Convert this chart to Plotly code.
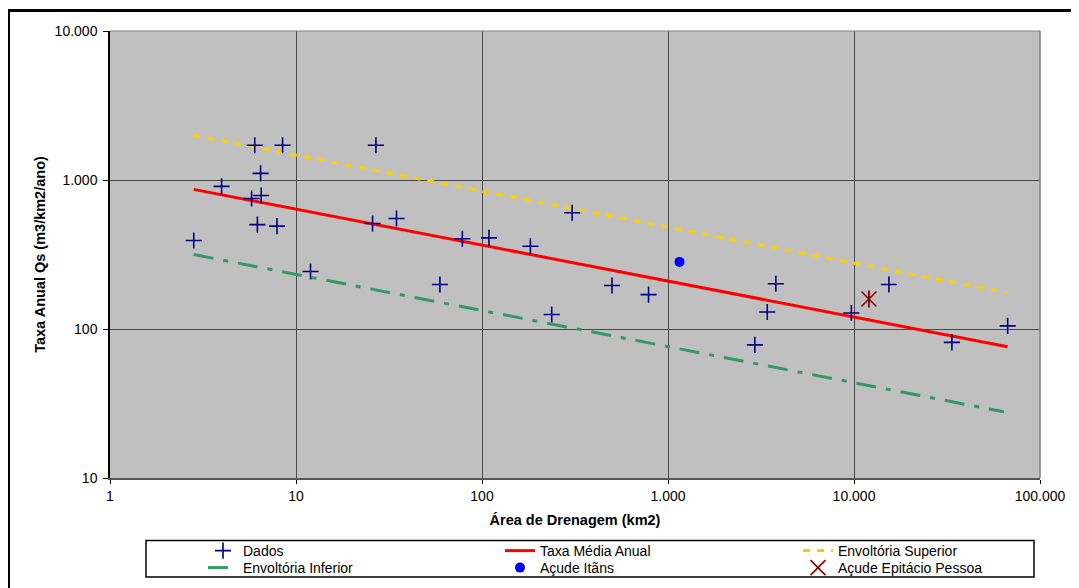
import plotly.graph_objects as go

# Dados
dados_area = [2.82, 3.98, 6.0, 8.47, 6.45, 5.77, 6.5, 6.2, 7.9, 11.97, 26.9, 25.8, 34.7,
              59.4, 78.4, 109, 182, 237, 305, 500, 786, 3800, 3417, 2930, 9680, 15400, 33600, 67000]
dados_qs = [393, 906, 1710, 1710, 1107, 752, 787, 502, 490, 243, 1710, 511, 552,
            199, 403, 409, 359, 125, 603, 196, 170, 201, 130, 78.3, 128, 199, 81.3, 105]

# Trend / envelope lines (end points of power-law lines)
linha_area = [2.82, 67000]
media_qs = [865, 76]
superior_qs = [1995, 175]
inferior_area = [2.82, 64000]
inferior_qs = [316, 27.8]

itans_area = [1153]
itans_qs = [282]
epitacio_area = [12030]
epitacio_qs = [159]

x_ticks = [1, 10, 100, 1000, 10000, 100000]
x_ticktext = ["1", "10", "100", "1.000", "10.000", "100.000"]
y_ticks = [10, 100, 1000, 10000]
y_ticktext = ["10", "100", "1.000", "10.000"]

FONT = "Liberation Sans, Arial, sans-serif"

# figure geometry (page has an 8px body margin)
OFF = 8
W, H = 1071, 580
L, R, T, B = 102, 39, 23, 110
pw, ph = W - L - R, H - T - B


def px_x(p):
    return (p - OFF - L) / pw


def px_y(p):
    return (H - B - (p - OFF)) / ph


fig = go.Figure()

fig.add_trace(go.Scatter(x=linha_area, y=superior_qs, mode="lines", name="Envoltória Superior",
                         line=dict(color="#FFCC00", width=3, dash="7px,7px"), legend="legend3"))
fig.add_trace(go.Scatter(x=inferior_area, y=inferior_qs, mode="lines", name="Envoltória Inferior",
                         line=dict(color="#339966", width=3, dash="20px,10px,5px,10px"), legend="legend4"))
fig.add_trace(go.Scatter(x=linha_area, y=media_qs, mode="lines", name="Taxa Média Anual",
                         line=dict(color="#FF0000", width=3), legend="legend2"))
fig.add_trace(go.Scatter(x=dados_area, y=dados_qs, mode="markers", name="Dados",
                         marker=dict(symbol="cross-thin", size=11.5, line=dict(color="#000080", width=1.6),
                                     color="#000080"), legend="legend"))
fig.add_trace(go.Scatter(x=itans_area, y=itans_qs, mode="markers", name="Açude Itãns",
                         marker=dict(symbol="circle", size=10, color="#0000FF"), legend="legend5"))
fig.add_trace(go.Scatter(x=epitacio_area, y=epitacio_qs, mode="markers", name="Açude Epitácio Pessoa",
                         marker=dict(symbol="x-thin", size=15, line=dict(color="#800000", width=1.6),
                                     color="#800000"), legend="legend6"))
fig.add_trace(go.Scatter(x=epitacio_area, y=epitacio_qs, mode="markers", showlegend=False,
                         legend="legend6",
                         marker=dict(symbol="line-ns", size=12, line=dict(color="#800000", width=1.8),
                                     color="#800000"), hoverinfo="skip"))

legend_common = dict(bgcolor="rgba(0,0,0,0)", borderwidth=0, orientation="v",
                     font=dict(family=FONT, size=14, color="#000"),
                     xanchor="left", yanchor="middle", itemwidth=30)

row1, row2 = 551, 568
col1, col2, col3 = 243 - 40, 540 - 40, 838 - 40

fig.update_layout(
    width=W, height=H,
    margin=dict(l=L, r=R, t=T, b=B, autoexpand=False),
    paper_bgcolor="white",
    plot_bgcolor="#C0C0C0",
    font=dict(family=FONT, size=14, color="#000"),
    showlegend=True,
    legend=dict(x=px_x(col1), y=px_y(row1), **legend_common),
    legend4=dict(x=px_x(col1), y=px_y(row2), **legend_common),
    legend2=dict(x=px_x(col2), y=px_y(row1), **legend_common),
    legend5=dict(x=px_x(col2), y=px_y(row2), **legend_common),
    legend3=dict(x=px_x(col3), y=px_y(row1), **legend_common),
    legend6=dict(x=px_x(col3), y=px_y(row2), **legend_common),
    xaxis=dict(type="log", range=[0, 5], tickvals=x_ticks, ticktext=x_ticktext,
               showgrid=True, gridcolor="#4a4a4a", gridwidth=1,
               showline=True, linecolor="#555", linewidth=2,
               ticks="outside", ticklen=4, tickcolor="#000",
               tickfont=dict(family=FONT, size=14),
               title=dict(text="<b>Área de Drenagem (km2)</b>", font=dict(family=FONT, size=14.5), standoff=12),
               zeroline=False),
    yaxis=dict(type="log", range=[1, 4], tickvals=y_ticks, ticktext=y_ticktext,
               showgrid=True, gridcolor="#4a4a4a", gridwidth=1,
               showline=True, linecolor="#000", linewidth=1.5,
               ticks="outside", ticklen=5, tickcolor="#000",
               tickfont=dict(family=FONT, size=14), ticklabelstandoff=3,
               title=dict(text="<b>Taxa Anual Qs (m3/km2/ano)</b>", font=dict(family=FONT, size=14.5), standoff=6),
               zeroline=False),
    shapes=[
        # outer chart border
        dict(type="rect", xref="paper", yref="paper",
             x0=px_x(8.5), x1=px_x(1120), y0=px_y(640), y1=px_y(10.5),
             line=dict(color="#000", width=3), fillcolor="rgba(0,0,0,0)", layer="below"),
        # plot-area right/top edge
        dict(type="line", xref="paper", yref="paper", x0=1, x1=1, y0=0, y1=1,
             line=dict(color="#808080", width=1.5)),
        dict(type="line", xref="paper", yref="paper", x0=0, x1=1, y0=1, y1=1,
             line=dict(color="#808080", width=1)),
        # legend box
        dict(type="rect", xref="paper", yref="paper",
             x0=px_x(146), x1=px_x(1034), y0=px_y(577), y1=px_y(540.5),
             line=dict(color="#000", width=1.5), fillcolor="rgba(0,0,0,0)"),
    ],
)

fig.write_html("out.html")
